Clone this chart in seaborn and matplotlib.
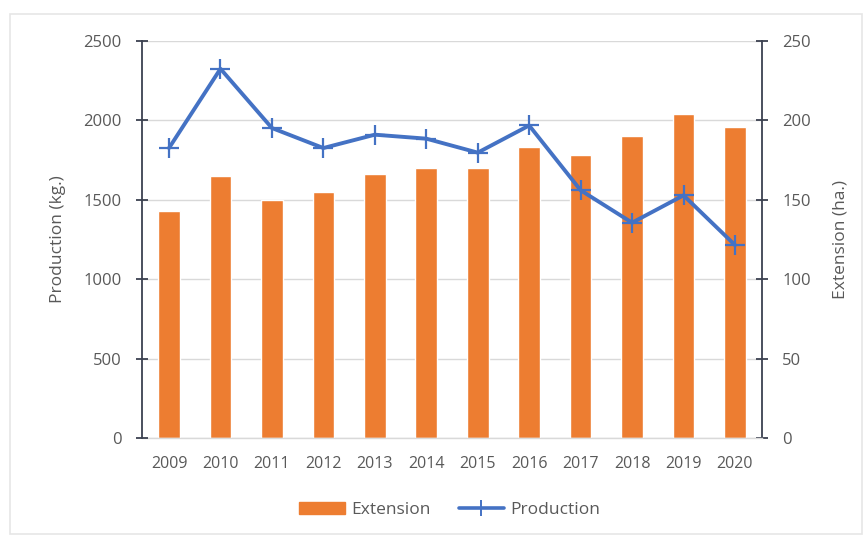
import matplotlib
matplotlib.use("Agg")
import matplotlib.pyplot as plt
import seaborn as sns
import pandas as pd
import numpy as np
from matplotlib.patches import Patch, Rectangle
from matplotlib.lines import Line2D

years = ["2009", "2010", "2011", "2012", "2013", "2014",
         "2015", "2016", "2017", "2018", "2019", "2020"]
extension = [143, 165, 150, 155, 166, 170, 170, 183, 178, 190, 204, 196]
production = [1826, 2325, 1952, 1826, 1910, 1885, 1797, 1968, 1560, 1356, 1528, 1215]

df = pd.DataFrame({"Year": years, "Extension": extension, "Production": production,
                   "pos": np.arange(len(years))})

sns.set_theme(style="white")
plt.rcParams["font.family"] = ["Open Sans", "DejaVu Sans"]

BAR = "#ED7D31"
LINE = "#4472C4"
TXT = "#595959"
SPINE = "#3b4150"
GRID = "#d9d9d9"

fig = plt.figure(figsize=(8.67, 5.4), dpi=100)
fig.patch.set_facecolor("white")
fig.add_artist(Rectangle((10 / 867, 6 / 540), 852 / 867, 520 / 540,
                         transform=fig.transFigure, fill=False,
                         edgecolor="#e6e6e6", linewidth=1.2))

ax = fig.add_axes([142 / 867, 102 / 540, 620 / 867, 397 / 540])
ax2 = ax.twinx()

# bars on the right axis
sns.barplot(data=df, x="pos", y="Extension", ax=ax2, color=BAR,
            width=0.42, saturation=1, native_scale=True)
ax2.set_ylim(0, 250)
ax2.set_yticks([0, 50, 100, 150, 200, 250])
ax2.set_axisbelow(True)
ax2.yaxis.grid(True, color=GRID, linewidth=1.0)
ax2.xaxis.grid(False)

# line on the left axis
sns.lineplot(data=df, x="pos", y="Production", ax=ax, color=LINE,
             linewidth=2.8, marker="+", markersize=15, markeredgewidth=1.6,
             markeredgecolor=LINE)
ax.set_ylim(0, 2500)
ax.set_yticks([0, 500, 1000, 1500, 2000, 2500])
ax.set_zorder(ax2.get_zorder() + 1)
ax.patch.set_visible(False)
ax.grid(False)

ax.set_xlim(-0.525, len(years) - 1 + 0.525)
ax.set_xticks(df["pos"])
ax.set_xticklabels(years)

for a in (ax, ax2):
    for s in a.spines.values():
        s.set_visible(False)

ax.spines["left"].set_visible(True)
ax.spines["left"].set_color(SPINE)
ax.spines["left"].set_linewidth(1.3)
ax2.spines["right"].set_visible(True)
ax2.spines["right"].set_color(SPINE)
ax2.spines["right"].set_linewidth(1.3)
ax2.spines["bottom"].set_visible(True)
ax2.spines["bottom"].set_color(GRID)
ax2.spines["bottom"].set_linewidth(1.0)

ax.tick_params(axis="y", direction="inout", length=9, width=1.3, color=SPINE,
               labelsize=12, labelcolor=TXT, pad=10)
ax2.tick_params(axis="y", direction="inout", length=9, width=1.3, color=SPINE,
                labelsize=12, labelcolor=TXT, pad=10)
ax.tick_params(axis="x", length=0, labelsize=11.5, labelcolor=TXT, pad=13)
ax2.tick_params(axis="x", length=0, labelbottom=False)

ax.set_xlabel("")
ax2.set_xlabel("")
ax.set_ylabel("Production (kg.)", fontsize=12.5, color=TXT)
ax2.set_ylabel("Extension (ha.)", fontsize=12.5, color=TXT)
ax.yaxis.set_label_coords(-0.122, 0.5)
ax2.yaxis.set_label_coords(1.114, 0.5)

handles = [Patch(facecolor=BAR, edgecolor=BAR),
           Line2D([0], [0], color=LINE, linewidth=2.6, marker="+",
                  markersize=11, markeredgewidth=1.4)]
fig.legend(handles, ["Extension", "Production"], loc="center",
           bbox_to_anchor=(450 / 867, 30 / 540), ncol=2, frameon=False,
           fontsize=12.5, labelcolor=TXT, handlelength=2.6, handletextpad=0.4,
           columnspacing=1.6)

fig.savefig("out.png", dpi=100)
